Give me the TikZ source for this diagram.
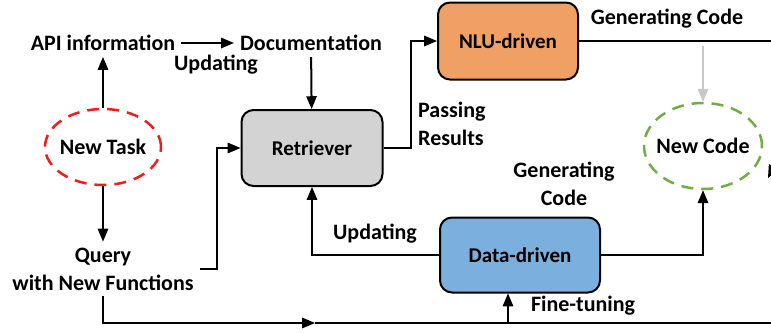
\documentclass[tikz,border=0pt]{standalone}
\usepackage{fontspec}
\setmainfont{Carlito}
\usepackage{tikz}
\usetikzlibrary{shapes,arrows}
\definecolor{nluorange}{RGB}{240,160,100}
\definecolor{datablue}{RGB}{123,175,222}
\definecolor{retrgray}{RGB}{211,211,211}
\definecolor{taskred}{RGB}{235,30,30}
\definecolor{codegreen}{RGB}{112,173,71}
\definecolor{hintgray}{RGB}{200,200,200}
\tikzset{
    block/.style = {draw,
                    rectangle,
                    rounded corners=12pt,
                    line width=2pt,
                    font=\fontsize{21}{25}\selectfont\bfseries
    },
    oval/.style = {draw,
                   ellipse,
                   inner sep=0pt,
                   line width=2.5pt,
                   dash pattern=on 12pt off 8pt,
                   font=\fontsize{22}{28}\selectfont\bfseries
    },
    txt/.style = {align=center,
                  inner sep=6pt,
                  font=\fontsize{22}{28}\selectfont\bfseries
    },
    arr/.style = {-triangle 45, line width=2pt},
    line/.style = {line width=2pt}
}
\begin{document}
\begin{tikzpicture}[x=1pt,y=-1pt]
    \useasboundingbox (0,0) rectangle (771,332);

    \node [txt]   (api)     at (103,43)  {API information};
    \node [txt]   (doc)     at (311,43)  {Documentation};
    \node [oval, draw=taskred, minimum width=116pt, minimum height=76pt]
                  (task)    at (103,147) {\makebox[0pt]{New Task}};
    \node [txt]   (query)   at (103,269) {Query\\with New Functions};
    \node [block, fill=retrgray, minimum width=141pt, minimum height=76pt]
                  (retr)    at (312,148) {Retriever};
    \node [block, fill=nluorange, minimum width=140pt, minimum height=77pt]
                  (nlu)     at (508,41)  {NLU-driven};
    \node [block, fill=datablue, minimum width=160pt, minimum height=75pt]
                  (data)    at (520,255) {Data-driven};
    \node [oval, draw=codegreen, minimum width=118pt, minimum height=86pt]
                  (newcode) at (703,146) {\makebox[0pt]{New Code}};

    \coordinate (bot)   at (315,323);
    \coordinate (ft)    at (508,323);
    \coordinate (edge)  at (771,323);
    \coordinate (gray)  at (703,46);
    \coordinate (cut)   at (776,162);
    \coordinate (cutto) at (768,178);

    % labels
    \node [txt]              (upd1) at (216,65)  {Updating};
    \node [txt, anchor=west, align=left]
                             (pass) at (412,124) {Passing\\Results};
    \node [txt]              (gen1) at (667,19)  {Generating Code};
    \node [txt]              (gen2) at (564,184) {Generating\\Code};
    \node [txt]              (upd2) at (375,234) {Updating};
    \node [txt]              (fine) at (583,306) {Fine-tuning};

    \draw[arr] (task) -- (api);
    \draw[arr] (api) -- (doc);
    \draw[arr] (task) -- (query);
    \draw[arr] (doc) -- (retr);
    \draw[arr] (query.east) -- ++(17,0) |- (retr.west);
    \draw[arr] (retr.east) -- ++(27,0) |- (nlu.west);
    \draw[line] (nlu.east) -- (nlu.east -| edge);
    \draw[arr, hintgray] (gray) -- (newcode.north);
    \draw[arr] (data.west) -| (retr.south);
    \draw[arr] (data.east) -| (newcode.south);
    \draw[arr] (query.south) |- (bot);
    \draw[line] (bot) -- (edge);
    \draw[arr] (ft) -- (ft |- data.south);
    \draw[arr] (cut) -- (cutto);
\end{tikzpicture}
\end{document}
